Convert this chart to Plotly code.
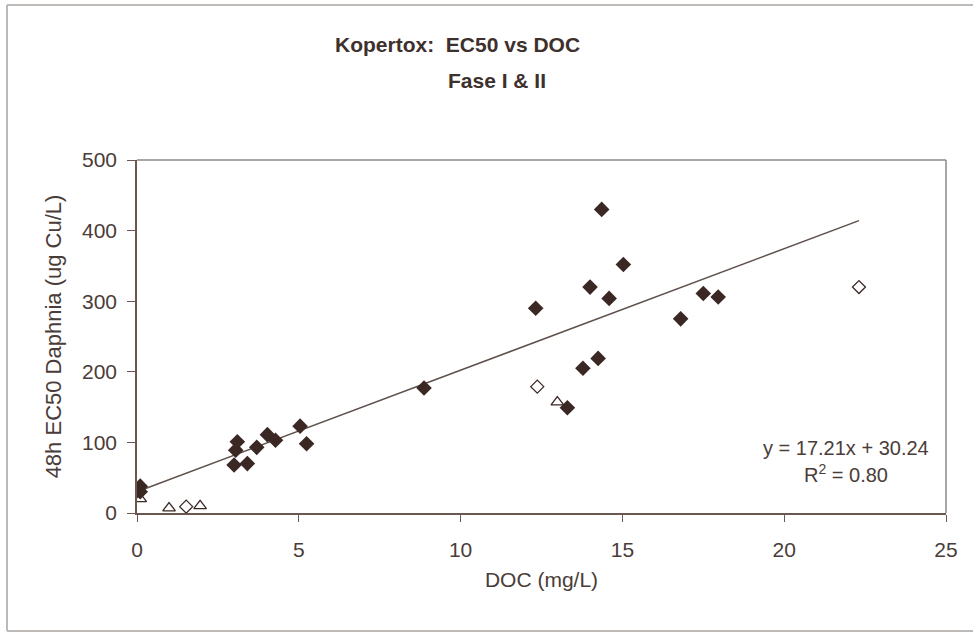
import plotly.graph_objects as go

# Filled diamonds
filled_x = [0.1, 0.1, 3.0, 3.05, 3.1, 3.41, 3.7, 4.03, 4.28, 5.04, 5.24, 8.87,
            12.32, 13.3, 13.78, 14.0, 14.25, 14.36, 14.59, 15.03, 16.8, 17.5, 17.96]
filled_y = [38, 30, 68, 89, 101, 70, 93, 111, 103, 123, 98, 177,
            290, 149, 205, 320, 219, 430, 304, 352, 275, 311, 306]
# Open diamonds
odiam_x = [1.52, 12.37, 22.31]
odiam_y = [9, 179, 320]
# Open triangles
otri_x = [0.1, 0.99, 1.95, 12.99]
otri_y = [20, 7, 10, 157]

slope = 17.21
intercept = 30.24
x_ticks = [0, 5, 10, 15, 20, 25]
y_ticks = [0, 100, 200, 300, 400, 500]

all_x = filled_x + odiam_x + otri_x
fit_x = [min(all_x), max(all_x)]
fit_y = [slope * v + intercept for v in fit_x]

mark = "#3b2824"
axc = "#6b5750"
boxc = "#8e8884"
txt = "#4a3c38"
font = "Liberation Sans, Arial, sans-serif"

W_FIG, H_FIG = 973, 633
pl, pr, pt, pb = 137, 946, 160, 513
W, H = pr - pl, pb - pt


def px2paper(x, y):
    return (x - pl) / W, (pb - y) / H


fig = go.Figure()
fig.add_trace(go.Scatter(x=fit_x, y=fit_y, mode="lines",
                         line=dict(color="#5e504b", width=1.5), showlegend=False, hoverinfo="skip"))
fig.add_trace(go.Scatter(x=filled_x, y=filled_y, mode="markers",
                         marker=dict(symbol="diamond", size=12, color=mark, line=dict(width=0)),
                         showlegend=False))
fig.add_trace(go.Scatter(x=odiam_x, y=odiam_y, mode="markers",
                         marker=dict(symbol="diamond-open", size=10, color=mark, line=dict(width=1.3)),
                         showlegend=False))
fig.add_trace(go.Scatter(x=otri_x, y=otri_y, mode="markers",
                         marker=dict(symbol="triangle-up-open", size=11, color=mark, line=dict(width=1.3)),
                         showlegend=False))

ann = []
for text, x, y, size in [("<b>Kopertox:  EC50 vs DOC</b>", 457, 45, 21),
                         ("<b>Fase I &amp; II</b>", 497, 80, 21),
                         ("y = 17.21x + 30.24", 846, 448, 20),
                         ("R<sup>2</sup> = 0.80", 846, 473, 20)]:
    xp, yp = px2paper(x, y)
    ann.append(dict(text=text, x=xp, y=yp, xref="paper", yref="paper", xanchor="center",
                    yanchor="middle", showarrow=False,
                    font=dict(size=size, color="#3e302c" if "<b>" in text else txt)))

shapes = []
# top and right plot-box lines (lighter)
for (x0, y0, x1, y1) in [(pl, pt, pr, pt), (pr, pt, pr, pb)]:
    a0, b0 = px2paper(x0, y0)
    a1, b1 = px2paper(x1, y1)
    shapes.append(dict(type="line", xref="paper", yref="paper", x0=a0, y0=b0, x1=a1, y1=b1,
                       line=dict(color=boxc, width=1.5)))
# outer chart border (left, top, bottom visible)
for (x0, y0, x1, y1) in [(7, 5, 7, 631), (7, 5, 973, 5), (7, 631, 973, 631)]:
    a0, b0 = px2paper(x0, y0)
    a1, b1 = px2paper(x1, y1)
    shapes.append(dict(type="line", xref="paper", yref="paper", x0=a0, y0=b0, x1=a1, y1=b1,
                       line=dict(color="#bdb9b6", width=2)))

fig.update_layout(
    width=W_FIG, height=H_FIG,
    margin=dict(l=pl, r=W_FIG - pr, t=pt, b=H_FIG - pb),
    paper_bgcolor="white", plot_bgcolor="white",
    font=dict(family=font, color=txt, size=20),
    xaxis=dict(range=[0, 25], tickvals=x_ticks, ticks="outside", ticklen=7, tickcolor=axc,
               tickwidth=1.3, showline=True, linecolor=axc, linewidth=1.5, mirror=False,
               showgrid=False, zeroline=False, tickfont=dict(size=21, color=txt),
               ticklabelstandoff=10,
               title=dict(text="DOC (mg/L)", font=dict(size=21, color=txt), standoff=12)),
    yaxis=dict(range=[0, 500], tickvals=y_ticks, ticks="outside", ticklen=8, tickcolor=axc,
               tickwidth=1.3, showline=True, linecolor=axc, linewidth=1.5, mirror=False,
               showgrid=False, zeroline=False, tickfont=dict(size=21, color=txt),
               ticklabelstandoff=6,
               title=dict(text="48h EC50 Daphnia (ug Cu/L)", font=dict(size=22, color=txt),
                          standoff=14)),
    annotations=ann,
    shapes=shapes,
)

fig.write_html("out.html")
